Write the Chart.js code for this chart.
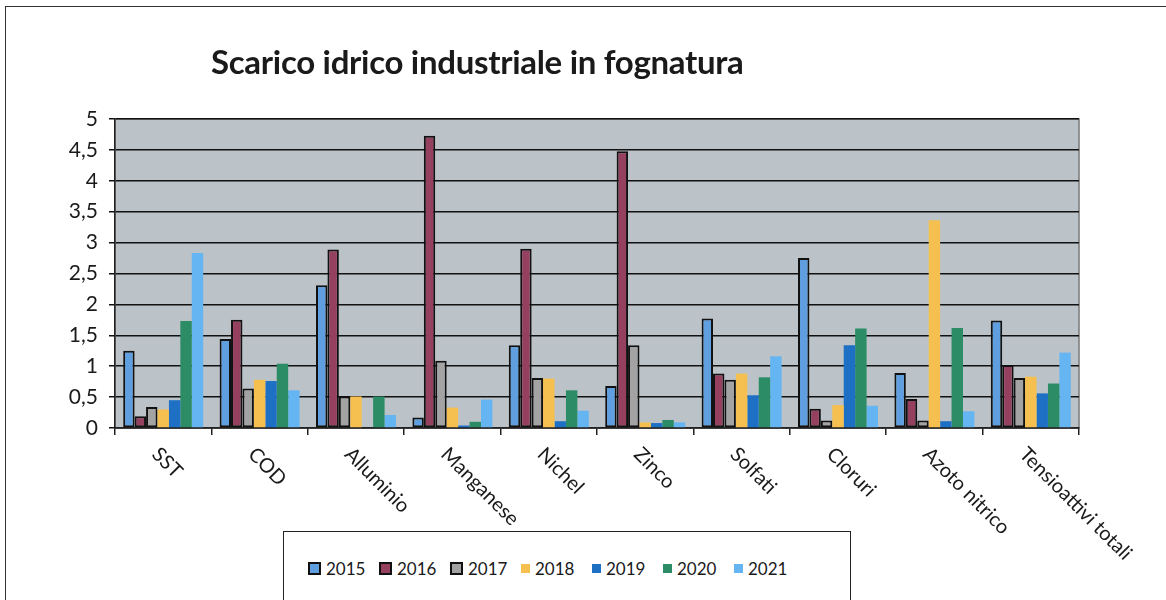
<!DOCTYPE html>
<html>
<head>
<meta charset="utf-8">
<script src="https://cdn.jsdelivr.net/npm/chart.js@4/dist/chart.umd.min.js"></script>
<style>
  body { margin: 0; background: #fff; }
  .wrap { position: relative; width: 1166px; height: 600px; overflow: hidden; }
  .frame { position: absolute; left: 5px; top: 6px; width: 1170px; height: 610px; border-left: 1.5px solid #333; border-top: 1.5px solid #333; }
  .title { position: absolute; left: 211px; top: 41px; font: bold 33px Lato, sans-serif; color: #1a1a1a; letter-spacing: -0.3px; }
  .legend { position: absolute; left: 283px; top: 531px; width: 568px; height: 80px; border: 1.5px solid #222; background: #fff;
            display: flex; align-items: flex-start; padding-left: 24px; padding-top: 26px; box-sizing: border-box; font: 17px Lato, sans-serif; color: #1a1a1a; }
  .legend span { display: inline-flex; align-items: center; width: 71px; height: 20px; }
  .legend i { display: inline-block; width: 9px; height: 9px; margin-right: 5px; }
  canvas { position: absolute; left: 0; top: 0; }
</style>
</head>
<body>
<div class="wrap">
  <div class="frame"></div>
  <canvas id="chart" width="1166" height="600"></canvas>
  <div class="title">Scarico idrico industriale in fognatura</div>
  <div class="legend" id="legend"></div>
</div>
<script>
const categories = ['SST', 'COD', 'Alluminio', 'Manganese', 'Nichel', 'Zinco', 'Solfati', 'Cloruri', 'Azoto nitrico', 'Tensioattivi totali']
const years = ['2015', '2016', '2017', '2018', '2019', '2020', '2021']
const v2015 = [1.25, 1.44, 2.31, 0.17, 1.34, 0.68, 1.77, 2.75, 0.89, 1.74]
const v2016 = [0.19, 1.75, 2.89, 4.73, 2.90, 4.48, 0.88, 0.31, 0.47, 1.02]
const v2017 = [0.34, 0.64, 0.51, 1.09, 0.81, 1.34, 0.78, 0.12, 0.12, 0.81]
const v2018 = [0.30, 0.78, 0.51, 0.33, 0.80, 0.09, 0.88, 0.37, 3.36, 0.83]
const v2019 = [0.45, 0.76, 0, 0.04, 0.11, 0.08, 0.53, 1.34, 0.11, 0.56]
const v2020 = [1.73, 1.04, 0.51, 0.10, 0.61, 0.13, 0.82, 1.61, 1.62, 0.72]
const v2021 = [2.83, 0.61, 0.21, 0.46, 0.28, 0.09, 1.16, 0.36, 0.27, 1.22]
const yTicks = [0, 0.5, 1, 1.5, 2, 2.5, 3, 3.5, 4, 4.5, 5]

const values = [v2015, v2016, v2017, v2018, v2019, v2020, v2021]
const colors = ['#5f9fe0', '#96405f', '#a3a3a3', '#f5c04f', '#1e70c4', '#2b8c65', '#64b5f2']
const outlined = [true, true, true, false, false, false, false]

const datasets = years.map((y, i) => ({
    label: y,
    data: values[i],
    backgroundColor: colors[i],
    borderColor: '#111',
    borderWidth: outlined[i] ? 2 : 0,
    borderSkipped: false,
    categoryPercentage: 0.83,
    barPercentage: 1.0
}))

const plotBg = {
    id: 'plotBg',
    beforeDraw(chart) {
        const a = chart.chartArea, ctx = chart.ctx
        ctx.save()
        ctx.fillStyle = '#bcc3c8'
        ctx.fillRect(a.left, a.top, a.right - a.left, a.bottom - a.top)
        ctx.strokeStyle = '#777'
        ctx.lineWidth = 1.5
        ctx.strokeRect(a.left, a.top, a.right - a.left, a.bottom - a.top)
        ctx.restore()
    }
}

// x labels rotated clockwise, text starting at the category
const slantLabels = {
    id: 'slantLabels',
    afterDraw(chart) {
        const xs = chart.scales.x, ctx = chart.ctx
        ctx.save()
        ctx.font = '20px Lato, sans-serif'
        ctx.fillStyle = '#1a1a1a'
        ctx.textAlign = 'left'
        ctx.textBaseline = 'middle'
        categories.forEach((c, i) => {
            const x = xs.getPixelForValue(i) - 8
            const y = chart.chartArea.bottom + 23
            ctx.save()
            ctx.translate(x, y)
            ctx.rotate(Math.PI / 4)
            ctx.fillText(c, 0, 0)
            ctx.restore()
        })
        ctx.restore()
    }
}

new Chart(document.getElementById('chart'), {
    type: 'bar',
    data: { labels: categories, datasets: datasets },
    options: {
        responsive: false,
        animation: false,
        devicePixelRatio: 1,
        layout: { padding: { top: 119, right: 87, left: 0, bottom: 0 } },
        plugins: { legend: { display: false }, title: { display: false }, tooltip: { enabled: false } },
        scales: {
            x: {
                offset: true,
                grid: { offset: true, drawOnChartArea: false, color: '#222', lineWidth: 1.5, tickLength: 7 },
                border: { color: '#222', width: 1.5 },
                ticks: { display: false },
                afterFit: s => { s.height = 172 }
            },
            y: {
                min: 0,
                max: 5,
                afterBuildTicks: s => { s.ticks = yTicks.map(v => ({ value: v })) },
                ticks: {
                    font: { family: 'Lato, sans-serif', size: 21 },
                    color: '#1a1a1a',
                    padding: 11,
                    callback: v => String(v).replace('.', ',')
                },
                grid: { color: '#111', lineWidth: 1.5, tickLength: 6 },
                border: { color: '#222', width: 1.5 },
                afterFit: s => { s.width = 115 }
            }
        }
    },
    plugins: [plotBg, slantLabels]
})

const legend = document.getElementById('legend')
years.forEach((y, i) => {
    const item = document.createElement('span')
    const box = document.createElement('i')
    box.style.background = colors[i]
    box.style.border = outlined[i] ? '2px solid #111' : '0'
    item.append(box, document.createTextNode(y))
    legend.append(item)
})
</script>
</body>
</html>
